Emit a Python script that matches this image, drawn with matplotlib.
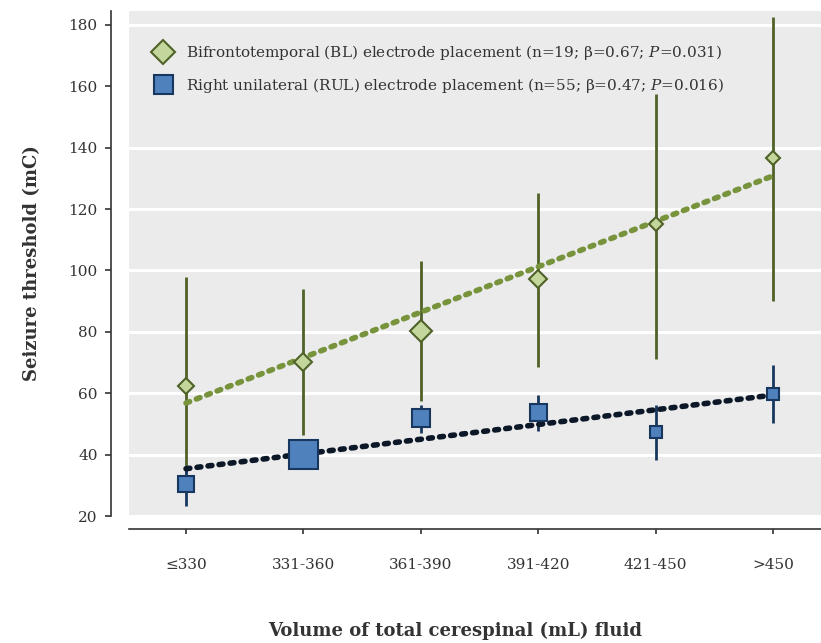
import matplotlib
matplotlib.use("Agg")
import matplotlib.pyplot as plt
from matplotlib.lines import Line2D
from matplotlib.patches import Rectangle
import numpy as np

plt.rcParams['font.family'] = ['DejaVu Serif']
plt.rcParams['mathtext.fontset'] = 'dejavuserif'

# categories of CSF volume
categories = ["≤330", "331-360", "361-390", "391-420", "421-450", ">450"]

# bifrontotemporal (BL) group: mean, error bar low/high, marker width (px)
bl_mean = [62.5, 70.2, 80.3, 97.2, 115.0, 136.7]
bl_low = [34.0, 46.4, 57.5, 68.6, 71.2, 90.0]
bl_high = [97.9, 94.0, 103.0, 125.3, 157.5, 182.6]
bl_size = [15, 17, 22, 18, 13, 14]
bl_trend = [56.8, 130.8]   # fitted line at first and last category

# right unilateral (RUL) group
rul_mean = [30.4, 40.2, 51.9, 53.9, 47.4, 59.8]
rul_low = [23.3, 38.0, 47.0, 47.7, 38.2, 50.3]
rul_high = [36.3, 42.5, 56.0, 59.4, 56.2, 69.2]
rul_size = [16, 29, 18, 17, 12, 12]
rul_trend = [35.4, 59.4]

yticks = [20, 40, 60, 80, 100, 120, 140, 160, 180]

BL_LINE = "#4F6228"
BL_FILL = "#C3D69B"
BL_TREND = "#77933C"
RUL_LINE = "#17375E"
RUL_FILL = "#4F81BD"
RUL_TREND = "#0C1828"
TXT = "#333333"
BG = "#EBEBEB"

fig = plt.figure(figsize=(8.21, 6.43), dpi=100)
ax = fig.add_axes([129 / 821, (643 - 516) / 643, 692 / 821, 505 / 643])
ax.set_facecolor(BG)

x = np.arange(len(categories))
px = 0.72  # points per pixel

#* white horizontal gridlines, drawn by hand so the legend band can hide one
for yt in yticks:
    ax.axhline(yt, color="white", lw=2.2, zorder=0.6)

#* legend box: full-width gray band over the gridlines
ax.add_patch(Rectangle((0, 0.741), 1, 0.221, transform=ax.transAxes,
                       facecolor=BG, edgecolor="none", zorder=1))

#* error bars
ax.vlines(x, bl_low, bl_high, color=BL_LINE, lw=2.0, zorder=2)
ax.vlines(x, rul_low, rul_high, color=RUL_LINE, lw=2.0, zorder=2)

#* trend lines (dotted, round caps)
for tr, col in [(bl_trend, BL_TREND), (rul_trend, RUL_TREND)]:
    ax.plot([x[0], x[-1]], tr, color=col, lw=4.0, linestyle=(0, (0.7, 1.3)),
            dash_capstyle="round", zorder=3)

#* markers, sized per point
for i in range(len(x)):
    ax.plot(x[i], bl_mean[i], marker="D", ms=bl_size[i] * px / 1.414,
            mfc=BL_FILL, mec=BL_LINE, mew=1.5, zorder=4)
    ax.plot(x[i], rul_mean[i], marker="s", ms=rul_size[i] * px,
            mfc=RUL_FILL, mec=RUL_LINE, mew=1.5, zorder=4)

ax.set_xlim(-0.4855, 5.409)
ax.set_ylim(20, 184.5)
ax.set_yticks(yticks)
ax.set_xticks(x)
ax.set_xticklabels(categories)
ax.grid(False)

for s in ["top", "right"]:
    ax.spines[s].set_visible(False)
ax.spines["left"].set_position(("outward", 13))
ax.spines["bottom"].set_position(("outward", 9.4))
for s in ["left", "bottom"]:
    ax.spines[s].set_color(TXT)
    ax.spines[s].set_linewidth(1.2)
ax.tick_params(axis="y", length=4.5, width=1.2, color=TXT, labelcolor=TXT,
               labelsize=11, pad=5)
ax.tick_params(axis="x", length=3.5, width=1.2, color=TXT, labelcolor=TXT,
               labelsize=11, pad=17)

ax.set_ylabel("Seizure threshold (mC)", fontsize=13, fontweight="bold",
              color=TXT, labelpad=20)
ax.set_xlabel("Volume of total cerespinal (mL) fluid", fontsize=13,
              fontweight="bold", color=TXT, labelpad=36)
ax.xaxis.label.set_x((455 - 129) / 692)

handles = [
    Line2D([], [], ls="none", marker="D", ms=24 * px / 1.414, mfc=BL_FILL,
           mec=BL_LINE, mew=1.5),
    Line2D([], [], ls="none", marker="s", ms=19 * px, mfc=RUL_FILL,
           mec=RUL_LINE, mew=1.5),
]
labels = [
    r"Bifrontotemporal (BL) electrode placement (n=19; β=0.67; $\it{P}$=0.031)",
    r"Right unilateral (RUL) electrode placement (n=55; β=0.47; $\it{P}$=0.016)",
]
leg = ax.legend(handles, labels, loc="upper left", bbox_to_anchor=(0.003, 0.97),
                frameon=False, fontsize=11, labelspacing=0.9,
                handletextpad=0.5, borderpad=0.6)
for t in leg.get_texts():
    t.set_color(TXT)

fig.savefig("out.png", dpi=100)
